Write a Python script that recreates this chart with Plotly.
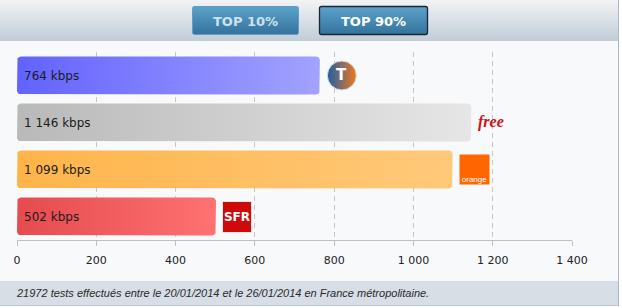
import base64
import math
import plotly.graph_objects as go

# ---------------- data ----------------
operators = ["Bouygues Telecom", "Free", "Orange", "SFR"]
speeds_kbps = [764, 1146, 1099, 502]
colors_left = ["#6262ff", "#b8b9b8", "#ffb44a", "#e54b4f"]
colors_right = ["#a2a2ff", "#e5e6e5", "#ffc97a", "#ff7172"]
tick_values = [0, 200, 400, 600, 800, 1000, 1200, 1400]
footer_text = "21972 tests effectués entre le 20/01/2014 et le 26/01/2014 en France métropolitaine."
buttons = ["TOP 10%", "TOP 90%"]

# ---------------- layout geometry ----------------
W, H = 622, 308
ML, MR, MT, MB = 17, 50, 52, 68
PW, PH = W - ML - MR, H - MT - MB
XMAX = 1400
px_per_x = PW / XMAX
px_per_y = PH / len(operators)
half_h = 19 / px_per_y          # bar half height in category units
radius = 4                      # px


def fmt(v):
    return f"{v:,}".replace(",", " ")


def px2paper_x(px):
    return (px - ML) / PW


def px2paper_y(py):
    return 1 - (py - MT) / PH


fig = go.Figure()

# bars: rounded rectangles with horizontal gradient
for i, (name, v) in enumerate(zip(operators, speeds_kbps)):
    rx = radius / px_per_x
    ry = radius / px_per_y
    x0, x1 = 0, v
    y0, y1 = i - half_h, i + half_h
    xs, ys = [], []
    corners = [
        (x1 - rx, y0 + ry, -90, 0),
        (x1 - rx, y1 - ry, 0, 90),
        (x0 + rx, y1 - ry, 90, 180),
        (x0 + rx, y0 + ry, 180, 270),
    ]
    for cx, cy, a0, a1 in corners:
        for k in range(7):
            a = math.radians(a0 + (a1 - a0) * k / 6)
            xs.append(cx + rx * math.cos(a))
            ys.append(cy + ry * math.sin(a))
    xs.append(xs[0])
    ys.append(ys[0])
    fig.add_trace(go.Scatter(
        x=xs, y=ys, mode="lines", fill="toself",
        line=dict(width=0, color=colors_right[i]),
        fillcolor=colors_right[i],
        fillgradient=dict(type="horizontal",
                          colorscale=[[0, colors_left[i]], [1, colors_right[i]]]),
        hoverinfo="skip", showlegend=False, name=name,
    ))
    # value label inside bar
    fig.add_annotation(x=0, y=i, xref="x", yref="y", xanchor="left", yanchor="middle",
                       xshift=5, text=f"{fmt(v)} kbps", showarrow=False,
                       font=dict(family="DejaVu Sans", size=12, color="#1c1c1c"))

# logos
# Bouygues: round blue/orange badge
b_idx = 0
fig.add_trace(go.Scatter(
    x=[speeds_kbps[b_idx] + 22 / px_per_x], y=[b_idx], mode="markers",
    marker=dict(symbol="circle", size=29, color="#1c5ea8",
                gradient=dict(type="horizontal", color="#f07a1e"),
                line=dict(width=1, color="#d9e1ea")),
    hoverinfo="skip", showlegend=False))
fig.add_annotation(x=speeds_kbps[b_idx], y=b_idx, xref="x", yref="y",
                   xanchor="center", yanchor="middle", xshift=22, yshift=1, showarrow=False,
                   text="<b>T</b>", font=dict(family="DejaVu Sans", size=15, color="white"))
# Free
fig.add_annotation(x=speeds_kbps[1], y=1, xref="x", yref="y", xanchor="left", yanchor="middle",
                   xshift=5, yshift=1, showarrow=False,
                   text="<b><i>free</i></b>",
                   font=dict(family="Liberation Serif", size=16, color="#cc1018"))
# Orange
fig.add_annotation(x=speeds_kbps[2], y=2, xref="x", yref="y", xanchor="left", yanchor="middle",
                   xshift=6, showarrow=False, text="orange",
                   width=29, height=29, valign="bottom", align="center",
                   bgcolor="#ff6600", borderpad=0,
                   font=dict(family="Liberation Sans", size=8, color="white"))
# SFR
fig.add_annotation(x=speeds_kbps[3], y=3, xref="x", yref="y", xanchor="left", yanchor="middle",
                   xshift=6, showarrow=False, text="<b>SFR</b>",
                   width=28, height=30, valign="middle", align="center",
                   bgcolor="#cf0a0a", bordercolor="#e4e4e4", borderwidth=1, borderpad=0,
                   font=dict(family="DejaVu Sans", size=12, color="white"))

# ---------------- background (header, footer, buttons) as svg ----------------
svg = f'''<svg xmlns="http://www.w3.org/2000/svg" width="{W}" height="{H}" viewBox="0 0 {W} {H}" preserveAspectRatio="none">
<defs>
<linearGradient id="hd" x1="0" y1="0" x2="0" y2="1"><stop offset="0" stop-color="#f2f3f5"/><stop offset="1" stop-color="#c1ccd7"/></linearGradient>
<linearGradient id="bt" x1="0" y1="0" x2="0" y2="1"><stop offset="0" stop-color="#5ba2cb"/><stop offset="1" stop-color="#33739c"/></linearGradient>
</defs>
<rect x="0" y="0" width="{W}" height="{H}" fill="#ffffff"/>
<rect x="0" y="0" width="619" height="306" fill="#f7f9fb"/>
<rect x="0" y="0" width="619" height="41" fill="url(#hd)"/>
<rect x="0" y="281" width="619" height="24" fill="#d7dee5"/>
<rect x="0" y="305" width="619" height="1" fill="#bcc6d0"/>
<rect x="618" y="0" width="1" height="306" fill="#a9b8c8"/>
<rect x="192.5" y="6.5" width="106" height="28" rx="2" fill="url(#bt)" stroke="#5f9fc6" stroke-width="1"/>
<rect x="319.5" y="6.5" width="108" height="28" rx="2" fill="url(#bt)" stroke="#1a2630" stroke-width="1.3"/>
</svg>'''
src = "data:image/svg+xml;base64," + base64.b64encode(svg.encode()).decode()
fig.add_layout_image(dict(source=src, xref="paper", yref="paper",
                          x=-ML / PW, y=1 + MT / PH, sizex=W / PW, sizey=H / PH,
                          xanchor="left", yanchor="top", sizing="stretch",
                          layer="below", opacity=1))

# buttons text
fig.add_annotation(x=px2paper_x(245.5), y=px2paper_y(21), xref="paper", yref="paper",
                   xanchor="center", yanchor="middle",
                   showarrow=False, text=f"<b>{buttons[0]}</b>",
                   font=dict(family="DejaVu Sans", size=13, color="#cfe1ec"))
fig.add_annotation(x=px2paper_x(373.5), y=px2paper_y(21), xref="paper", yref="paper",
                   xanchor="center", yanchor="middle",
                   showarrow=False, text=f"<b>{buttons[1]}</b>",
                   font=dict(family="DejaVu Sans", size=13, color="#ffffff"))
# footer
fig.add_annotation(x=px2paper_x(14), y=px2paper_y(293), xref="paper", yref="paper",
                   xanchor="left", yanchor="middle", showarrow=False, text=f"<i>{footer_text}</i>",
                   font=dict(family="Liberation Sans", size=11, color="#2a2a2a"))

fig.update_layout(
    width=W, height=H,
    margin=dict(l=ML, r=MR, t=MT, b=MB, pad=0),
    paper_bgcolor="rgba(0,0,0,0)", plot_bgcolor="rgba(0,0,0,0)",
    separators=", ",
    showlegend=False,
    xaxis=dict(range=[0, XMAX], tickvals=tick_values, tickformat=",d",
               showgrid=True, gridcolor="#c6c6c6", griddash="5px,4px", gridwidth=1,
               zeroline=False, showline=True, linecolor="#c0c0c0", linewidth=1,
               ticks="outside", ticklen=5, tickcolor="#c0c0c0", ticklabelstandoff=5,
               tickfont=dict(family="DejaVu Sans", size=11, color="#222222"),
               fixedrange=True),
    yaxis=dict(range=[len(operators) - 0.5, -0.5], showgrid=False, zeroline=False,
               showticklabels=False, showline=False, ticks="", fixedrange=True),
)

fig.write_html("out.html", config={"displayModeBar": False})
